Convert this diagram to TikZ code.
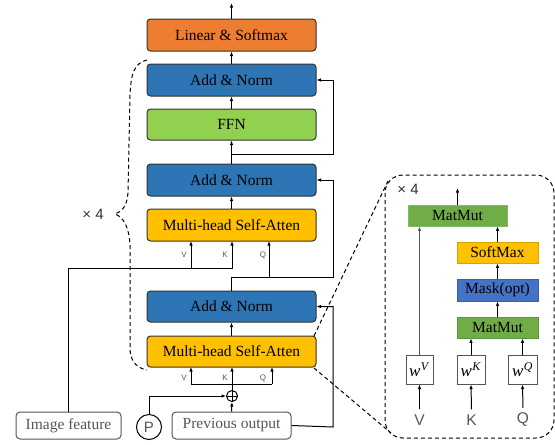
\documentclass[tikz,border=0pt]{standalone}
\usepackage{fontspec}
\setmainfont{Liberation Serif}
\setsansfont{Liberation Sans}
\usetikzlibrary{arrows.meta}
\definecolor{cOrange}{HTML}{ED7D31}
\definecolor{cBlue}{HTML}{2E75B6}
\definecolor{cGreen}{HTML}{92D050}
\definecolor{cYellow}{HTML}{FFC000}
\definecolor{cGreenB}{HTML}{70AD47}
\definecolor{cBlueB}{HTML}{4472C4}
\definecolor{cEdge}{HTML}{333333}
\definecolor{cGray}{HTML}{555555}
\newcommand{\wlab}[1]{\textit{w}\textsuperscript{\kern0.5pt\textit{#1}}}
\tikzset{
  blk/.style={draw=cEdge, line width=1pt, rounded corners=3.5pt, minimum width=169pt, minimum height=32pt, inner sep=0pt, font=\fontsize{15.5}{17}\selectfont},
  ioblk/.style={draw=cGray, line width=1pt, rounded corners=4pt, minimum height=27pt, inner sep=0pt, text=cGray, font=\fontsize{15.5}{17}\selectfont},
  inblk/.style={line width=0.8pt, minimum width=81pt, minimum height=21pt, inner sep=0pt, font=\fontsize{15.5}{17}\selectfont},
  wbox/.style={draw=cGray, line width=1pt, minimum height=29pt, inner sep=0pt, font=\fontsize{17}{19}\selectfont},
  arr/.style={-{Latex[length=4.5pt,width=3.5pt]}, line width=1pt, draw=black},
  ln/.style={line width=1pt, draw=black},
  dsh/.style={dashed, dash pattern=on 4pt off 3pt, line width=1pt},
  smlab/.style={font=\sffamily\fontsize{8}{9}\selectfont, text=cGray, inner sep=0pt},
  biglab/.style={font=\sffamily\fontsize{15.5}{17}\selectfont, text=cGray, inner sep=0pt},
  timeslab/.style={font=\sffamily\fontsize{15}{17}\selectfont, text=black!80, inner sep=0pt},
}
\begin{document}
\begin{tikzpicture}[x=1pt,y=-1pt]
\useasboundingbox (0,0) rectangle (555,445);
% main column
\node[blk, fill=cOrange] (ls) at (231.5,35) {Linear \& Softmax};
\node[blk, fill=cBlue] (an1) at (231.5,80) {Add \& Norm};
\node[blk, fill=cGreen, minimum height=31pt] (ffn) at (231.5,124.5) {FFN};
\node[blk, fill=cBlue] (an2) at (231.5,180) {Add \& Norm};
\node[blk, fill=cYellow] (mh1) at (231.5,225) {Multi-head Self-Atten};
\node[blk, fill=cBlue, minimum height=31pt] (an3) at (231.5,306.5) {Add \& Norm};
\node[blk, fill=cYellow, minimum height=31pt] (mh2) at (231.5,351.5) {Multi-head Self-Atten};
\node[ioblk, minimum width=105pt] (imf) at (68.5,425.5) {Image feature};
\node[ioblk, minimum width=119pt] (prev) at (231.5,425.5) {Previous output};
\node[draw=black, line width=1pt, circle, minimum size=25pt, inner sep=0pt, font=\sffamily\fontsize{15}{17}\selectfont, text=cGray] (pe) at (149,427) {P};
\node[draw=black, line width=1pt, circle, minimum size=11pt, inner sep=0pt] (plus) at (232,396) {};
\draw[line width=0.8pt] (plus.north) -- (plus.south) (plus.west) -- (plus.east);
\coordinate (top) at (231.5,3);
\draw[arr] (ls.north) -- (top);
\draw[arr] (an1.north) -- (ls.south);
\draw[arr] (ffn.north) -- (an1.south);
\draw[arr] (an2.north) -- (ffn.south);
\draw[arr] (mh1.north) -- (an2.south);
\draw[arr] (mh2.north) -- (an3.south);
% residual 1
\coordinate (r1) at (231.5,154);
\draw[arr] (r1) -- (333,154) |- (an1.east);
% residual 2 and Q of mh1
\coordinate (r2) at (231.5,277);
\draw[ln] (an3.north) -- (r2);
\draw[arr] (r2) -- (333,277) |- (an2.east);
\draw[arr] (269,277) -- (269,241);
% image feature -> V,K
\coordinate (ik) at (232,268);
\draw[arr] (imf.north) |- (ik) -- (232,241);
\draw[arr] (191,268) -- (191,241);
\node[smlab] at (184,255) {V};
\node[smlab] at (225,255) {K};
\node[smlab] at (263,255) {Q};
% residual 3
\draw[arr] (prev.east) -- (333,427) |- (an3.east);
% mh2 inputs
\coordinate (split) at (232,384);
\draw[ln] (plus.north) -- (split);
\draw[ln] (191,384) -- (272,384);
\draw[arr] (191,384) -- (191,367);
\draw[arr] (split) -- (232,367);
\draw[arr] (272,384) -- (272,367);
\node[smlab] at (184,378) {V};
\node[smlab] at (225,378) {K};
\node[smlab] at (263,378) {Q};
\draw[arr] (pe.north) |- (plus.west);
\draw[arr] (prev.north) -- (plus.south);
% brace
\draw[dsh] (147,60) .. controls (134,63) and (131,74) .. (130,95) -- (128,193) .. controls (127,207) and (121,212) .. (115,214) .. controls (123,217) and (129,226) .. (130,245) -- (130,350) .. controls (131,362) and (137,368) .. (147,370);
\node[timeslab] (x4a) at (93,214) {× 4};
% detail box
\draw[dsh, rounded corners=18pt] (385,175) rectangle (554,438);
\draw[dsh] (314,336) -- (388,181);
\draw[dsh] (314,368) -- (391,433);
\node[timeslab] (x4b) at (408,189) {× 4};
\node[inblk, fill=cGreenB, draw=cGreenB!85!white, minimum width=99pt] (mmt) at (457.5,215.5) {MatMut};
\node[inblk, fill=cYellow, draw=cYellow!85!black] (sm) at (497.5,252.5) {SoftMax};
\node[inblk, fill=cBlueB, draw=cBlueB!85!black, minimum height=22pt] (mask) at (497.5,290) {Mask(opt)};
\node[inblk, fill=cGreenB, draw=cGreenB!85!black] (mml) at (497.5,327.5) {MatMut};
\node[wbox, minimum width=27pt] (wv) at (419.5,369.5) {\wlab{V}};
\node[wbox, minimum width=28pt] (wk) at (471,369.5) {\wlab{K}};
\node[wbox, minimum width=29pt] (wq) at (522.5,369.5) {\wlab{Q}};
\node[biglab] (lv) at (419.5,420) {V};
\node[biglab] (lk) at (471.5,420) {K};
\node[biglab] (lq) at (523,420) {Q};
\coordinate (top2) at (457.5,188);
\draw[arr] ([yshift=5pt]lv.north) -- (wv.south);
\draw[arr] ([yshift=5pt]lk.north) -- (wk.south);
\draw[arr] ([yshift=5pt]lq.north) -- (wq.south);
\draw[arr, draw=cGray] (wv.north) -- (wv.north |- mmt.south);
\draw[arr] (wk.north) -- (wk.north |- mml.south);
\draw[arr] (wq.north) -- (wq.north |- mml.south);
\draw[arr] (mml.north) -- (mask.south);
\draw[arr] (mask.north) -- (sm.south);
\draw[arr] (sm.north) -- (sm.north |- mmt.south);
\draw[arr] (mmt.north) -- (top2);
\end{tikzpicture}
\end{document}
